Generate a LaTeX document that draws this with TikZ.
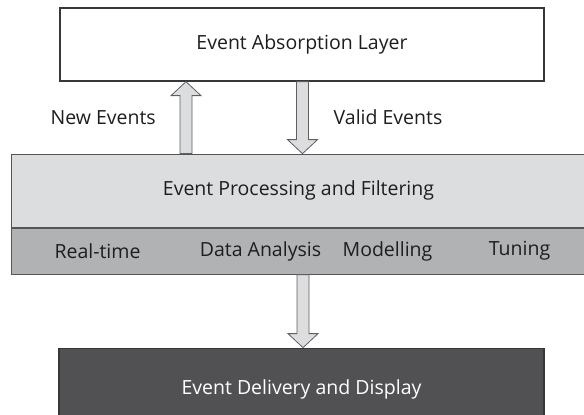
\documentclass[tikz,border=0pt]{standalone}
\usepackage{fontspec}
\setmainfont{Open Sans}
\usetikzlibrary{positioning, calc, shadows}
\definecolor{panelgray}{RGB}{220,221,223}
\definecolor{bargray}{RGB}{177,178,180}
\definecolor{darkpanel}{RGB}{81,81,83}
\definecolor{edgegray}{RGB}{55,55,57}
\definecolor{inktext}{RGB}{30,30,30}

% block arrow from #1 to #2 (vertical), head drawn at #2
\newcommand{\fatarrow}[2]{%
  \coordinate (fa-base) at ($(#2)!14pt!(#1)$);
  \draw[fatarr] ($(#1)+(-6pt,0)$) -- ($(fa-base)+(-6pt,0)$) -- ($(fa-base)+(-15pt,0)$)
    -- (#2) -- ($(fa-base)+(15pt,0)$) -- ($(fa-base)+(6pt,0)$) -- ($(#1)+(6pt,0)$) -- cycle;
}

\begin{document}
\begin{tikzpicture}[x=1pt, y=1pt,
    every node/.style={font=\fontsize{19.5}{22}\selectfont, text=inktext},
    box/.style={draw=edgegray, line width=1.3pt, fill=white, minimum width=484pt,
                minimum height=73pt, inner sep=0pt,
                general shadow={shadow xshift=1.2pt, shadow yshift=-1.4pt, fill=black!30}},
    procbox/.style={draw=edgegray!85, line width=1pt, fill=panelgray, minimum width=575pt,
                    minimum height=73pt, inner sep=0pt},
    subbar/.style={draw=edgegray!85, line width=1pt, fill=bargray, minimum width=575pt,
                   minimum height=46pt, inner sep=0pt},
    outbox/.style={draw=edgegray, line width=1.3pt, fill=darkpanel, minimum width=485pt,
                   minimum height=80pt, inner sep=0pt},
    fatarr/.style={draw=edgegray!80, fill=panelgray, line width=0.8pt, line join=miter},
    lbl/.style={inner sep=0pt}
  ]
  \useasboundingbox (0,0) rectangle (584,415);

  \node[box]                                  (top)   at (302,370.5) {Event Absorption Layer};
  \node[procbox, below=72pt of top, xshift=-3.5pt] (proc)  {Event Processing and Filtering};
  \node[subbar, below=0pt of proc]            (tools) {};
  \node[outbox, below=73pt of tools, xshift=3pt] (out) {};
  \node[lbl, text=white] (outlbl) at ([yshift=40pt]out.south) {Event Delivery and Display};

  % tools in the lower strip
  \node[lbl] (rt)  at ([xshift=87pt]tools.west)  {Real-time};
  \node[lbl] (da)  at ([xshift=250pt]tools.west) {Data Analysis};
  \node[lbl] (mod) at ([xshift=377pt]tools.west) {Modelling};
  \node[lbl] (tun) at ([xshift=509pt]tools.west) {Tuning};

  % arrows between the layers
  \coordinate (newfrom)   at ([xshift=-112.5pt]proc.north);
  \coordinate (newto)     at (newfrom |- top.south);
  \coordinate (validfrom) at ([xshift=0.5pt]top.south);
  \coordinate (validto)   at (validfrom |- proc.north);
  \coordinate (outfrom)   at ([xshift=0.5pt]validfrom |- tools.south);
  \coordinate (outto)     at (outfrom |- out.north);

  \fatarrow{newfrom}{newto}
  \fatarrow{validfrom}{validto}
  \fatarrow{outfrom}{outto}

  \node[lbl, anchor=east] (newlbl)   at ($(newfrom)!0.5!(newto)+(-30pt,0)$)     {New Events};
  \node[lbl, anchor=west] (validlbl) at ($(validfrom)!0.5!(validto)+(31pt,0)$) {Valid Events};
\end{tikzpicture}
\end{document}
